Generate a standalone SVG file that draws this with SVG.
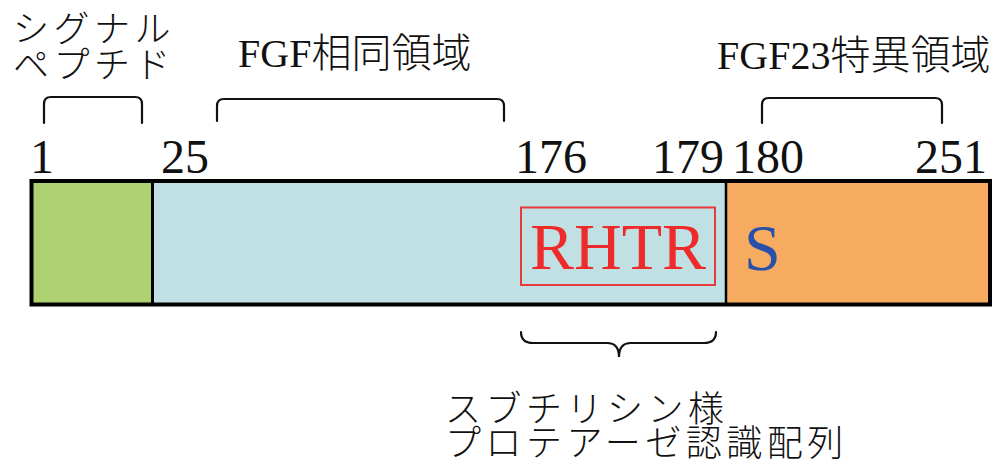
<svg xmlns="http://www.w3.org/2000/svg" width="1007" height="466" viewBox="0 0 1007 466">
<style>
.t{font-family:"Liberation Serif","Noto Sans CJK JP",serif;fill:#111}
.jp{font-family:"Liberation Serif","Noto Sans CJK JP",sans-serif;font-size:40px;fill:#111;font-weight:300}
.jp2{font-family:"Noto Sans CJK JP",sans-serif;font-size:36px;letter-spacing:4.5px;fill:#111;font-weight:300}
.num{font-size:48px}
.br{fill:none;stroke:#111;stroke-width:2.2;stroke-linecap:round}
</style>
<rect width="1007" height="466" fill="#fff"/>
<g id="signal-peptide">
<rect x="31.5" y="181" width="121" height="123.5" fill="#AED271"/>
</g>
<g id="fgf-homology">
<rect x="152.5" y="181" width="573.5" height="123.5" fill="#C0E0E3"/>
<rect x="521" y="207.5" width="194" height="77.5" fill="none" stroke="#E83A3A" stroke-width="2"/>
<text x="618" y="269" text-anchor="middle" class="t" font-size="66" style="fill:#EE2A2A">RHTR</text>
</g>
<g id="fgf23-specific">
<rect x="726" y="181" width="264" height="123.5" fill="#F6AB60"/>
<text x="744" y="270" class="t" font-size="66" style="fill:#2850A8">S</text>
</g>
<g id="bar-outline">
<rect x="31.5" y="181" width="958.5" height="123.5" fill="none" stroke="#000" stroke-width="4"/>
<line x1="152.5" y1="181" x2="152.5" y2="304.5" stroke="#000" stroke-width="3"/>
<line x1="726" y1="181" x2="726" y2="304.5" stroke="#000" stroke-width="2.5"/>
</g>
<g id="numbers" class="t num">
<text x="30" y="173" class="t num">1</text>
<text x="161" y="173" class="t num">25</text>
<text x="515" y="173" class="t num">176</text>
<text x="652" y="173" class="t num">179</text>
<text x="732" y="173" class="t num">180</text>
<text x="915" y="173" class="t num">251</text>
</g>
<g id="labels">
<text class="jp2"><tspan x="13" y="42">シグナル</tspan><tspan x="13" y="78">ペプチド</tspan></text>
<text x="238" y="67" class="jp">FGF相同領域</text>
<text x="717" y="69" class="jp">FGF23特異領域</text>
<text class="jp2"><tspan x="445" y="422">スブチリシン様</tspan><tspan x="445" y="456">プロテアーゼ認識配列</tspan></text>
</g>
<g id="connectors">
<path class="br" d="M44 123 L44 104 Q44 97 51 97 L135 97 Q142 97 142 104 L142 123"/>
<path class="br" d="M217 121 L217 106 Q217 99 224 99 L497 99 Q504 99 504 106 L504 121"/>
<path class="br" d="M762 123 L762 105 Q762 98 769 98 L935 98 Q942 98 942 105 L942 123"/>
<path class="br" d="M521 332 Q521 343 533 343 L607 343 Q619 343 619 357 Q619 343 631 343 L704 343 Q716 343 716 332"/>
</g>
</svg>
